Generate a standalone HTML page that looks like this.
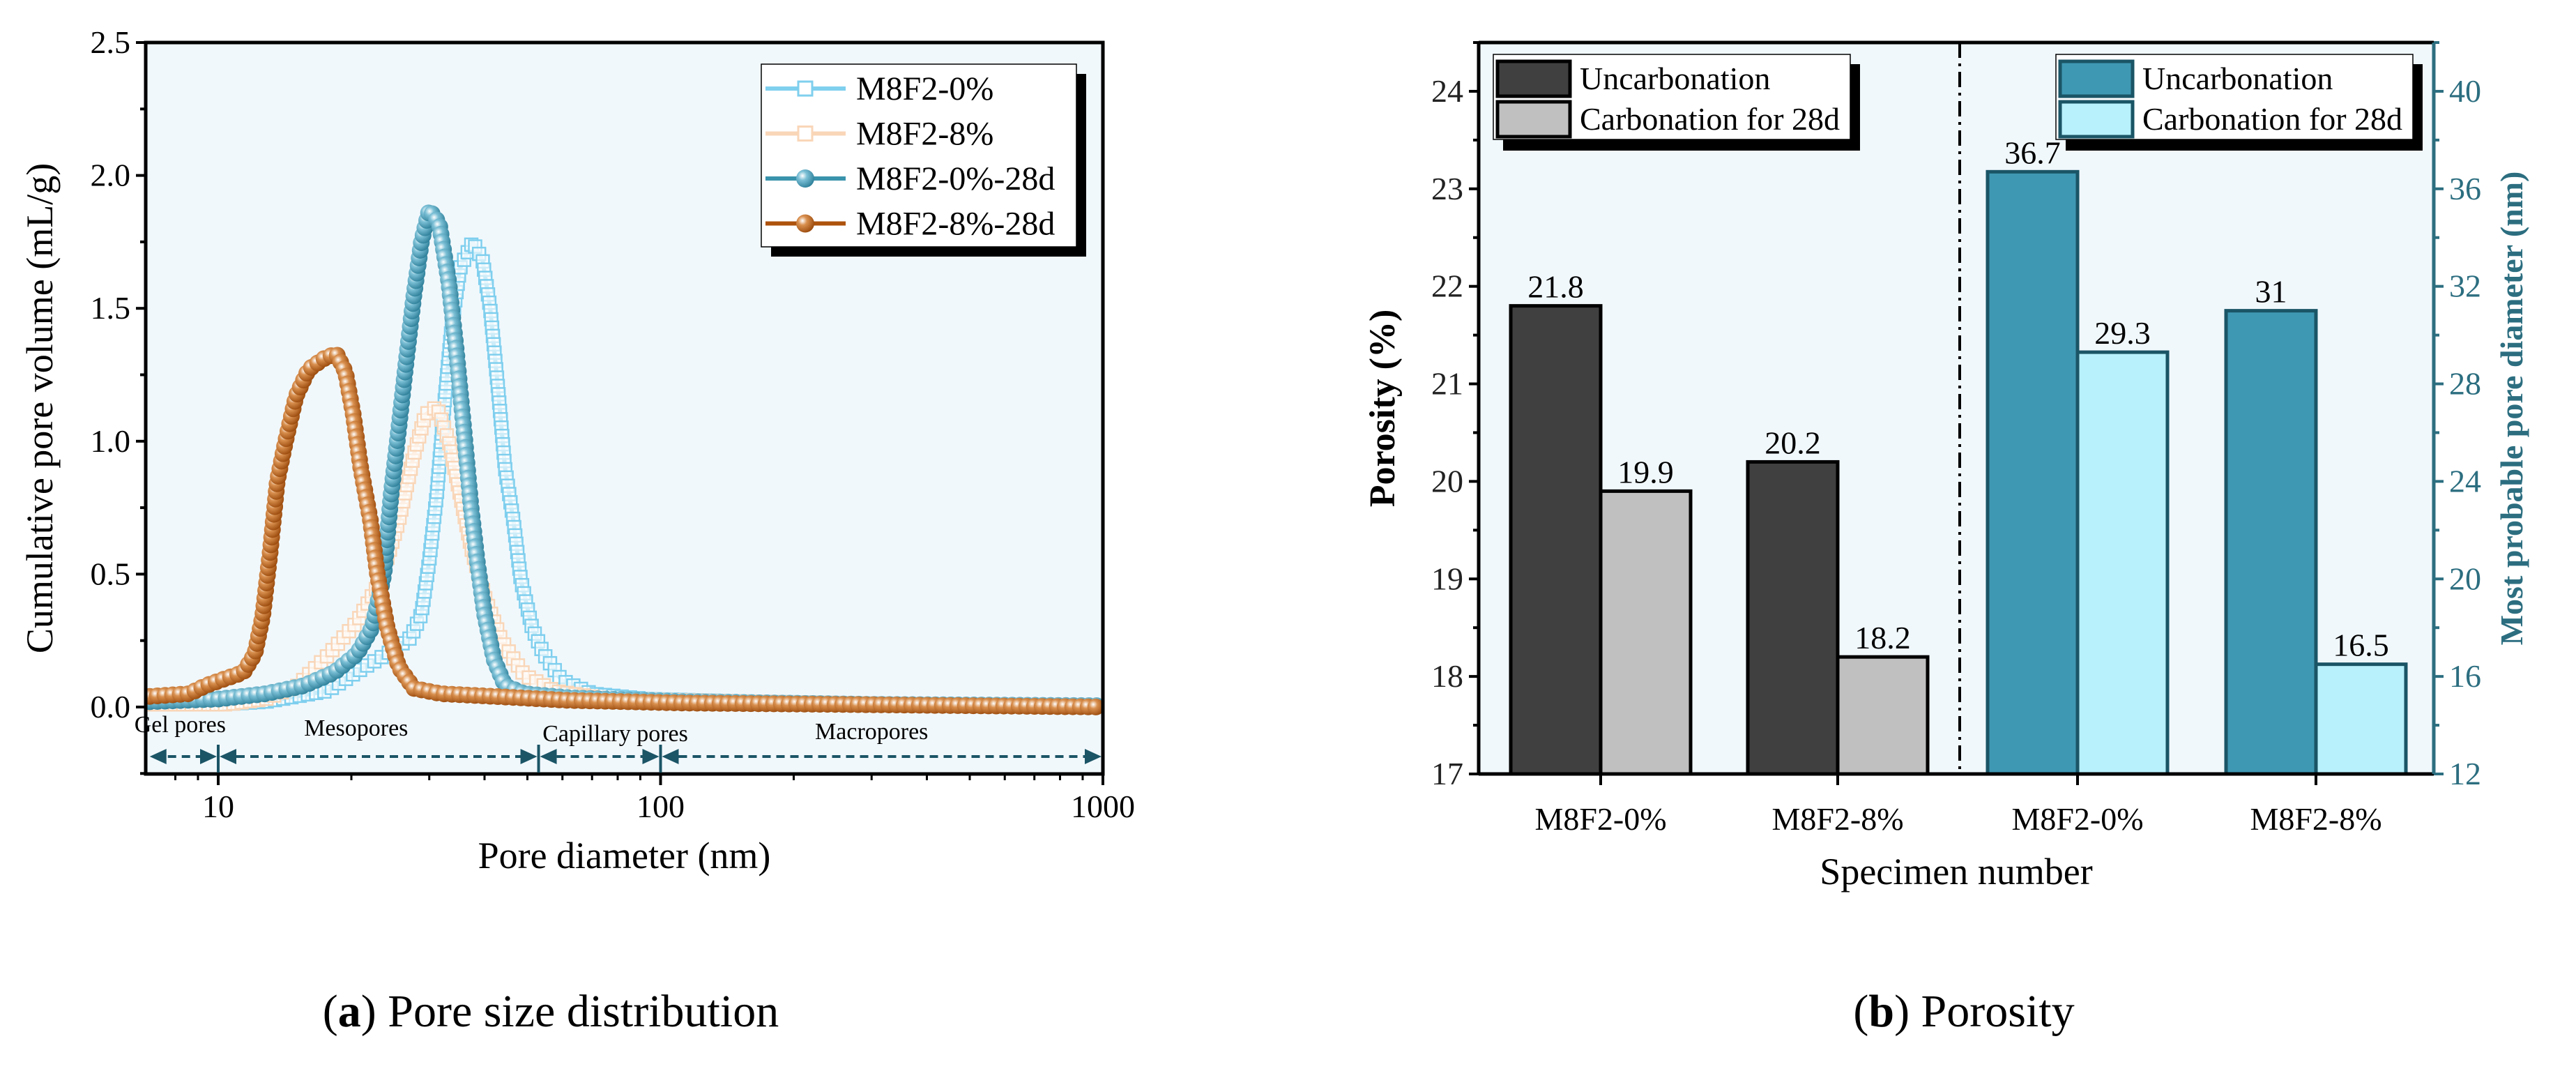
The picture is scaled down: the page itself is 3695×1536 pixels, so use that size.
<!DOCTYPE html>
<html><head><meta charset="utf-8"><style>
body{margin:0;background:#fff}
svg, svg text{font-family:"Liberation Serif","DejaVu Serif","Times New Roman",serif}
</style></head><body>
<svg id="root" width="3695" height="1531" viewBox="0 0 3695 1531" xmlns="http://www.w3.org/2000/svg" font-family="Liberation Serif, DejaVu Serif, serif">
<defs>
<radialGradient id="gBlue" cx="0.35" cy="0.35" r="0.7"><stop offset="0" stop-color="#ffffff"/><stop offset="0.35" stop-color="#7cc0d6"/><stop offset="1" stop-color="#2d7f99"/></radialGradient>
<radialGradient id="gBrown" cx="0.35" cy="0.35" r="0.7"><stop offset="0" stop-color="#ffffff"/><stop offset="0.35" stop-color="#d9904f"/><stop offset="1" stop-color="#9a4a0c"/></radialGradient>
</defs>
<g id="chartA"></g>
<g id="chartB"></g>
<text x="790" y="1472" font-size="66" text-anchor="middle" font-family="Liberation Serif, DejaVu Serif, serif">(<tspan font-weight="bold">a</tspan>) Pore size distribution</text>
<text x="2817" y="1472" font-size="66" text-anchor="middle" font-family="Liberation Serif, DejaVu Serif, serif">(<tspan font-weight="bold">b</tspan>) Porosity</text>
</svg>
<script>
// ---------- Chart A data ----------
const d0 = [7,10,12.8,17.6,21.4,24.1,27.2,28.8,30,31.2,32.5,33.8,35.2,37.6,39.6,41.2,42.9,44.5,46.5,48.3,51.2,54.4,59.8,70,93,167,400,1000];
const v0 = [0.01,0.01,0.02,0.06,0.15,0.2,0.26,0.35,0.55,0.8,1.15,1.45,1.65,1.75,1.68,1.5,1.2,0.9,0.7,0.48,0.3,0.2,0.1,0.05,0.03,0.02,0.01,0.0];
const d8 = [7,10.5,12.8,15.1,17.6,20.6,23.2,25.6,27.7,29.4,31.2,33.2,35.2,37.3,40.3,43.7,49.2,57.7,76,167,400,1000];
const v8 = [0.01,0.01,0.03,0.08,0.19,0.32,0.47,0.7,0.95,1.1,1.13,1.0,0.8,0.6,0.4,0.25,0.12,0.06,0.03,0.02,0.01,0.0];
const d0c = [7,10,12.8,15.6,18.3,20.6,22.3,23.7,24.6,25.6,26.6,27.7,28.8,30,31.6,33.2,34.5,35.9,37.3,38.5,40,42,44.5,49.2,62,113,300,1000];
const v0c = [0.02,0.03,0.05,0.08,0.13,0.2,0.3,0.5,0.8,1.05,1.3,1.55,1.75,1.87,1.82,1.6,1.35,1.05,0.75,0.55,0.35,0.18,0.08,0.05,0.035,0.02,0.01,0.005];
const d8c = [7,8.6,9.35,10.1,11.4,12.1,12.6,13.1,13.6,14.2,15,16,17.3,18.5,19.4,20.2,21,22.1,22.9,24.1,25.6,27.7,31.9,42,62,113,248,1000];
const v8c = [0.04,0.05,0.08,0.1,0.13,0.2,0.34,0.58,0.85,1.0,1.17,1.27,1.31,1.33,1.26,1.1,0.9,0.7,0.5,0.3,0.15,0.07,0.05,0.04,0.025,0.015,0.01,0.0];
const yTicksA = [0,0.5,1,1.5,2,2.5];
const yTickLabelsA = ["0.0","0.5","1.0","1.5","2.0","2.5"];
const xTicksA = [10,100,1000];
const legendA = ["M8F2-0%","M8F2-8%","M8F2-0%-28d","M8F2-8%-28d"];
// ---------- Chart B data ----------
const catsB = ["M8F2-0%","M8F2-8%","M8F2-0%","M8F2-8%"];
const porUncarb = [21.8,20.2];
const porCarb = [19.9,18.2];
const diaUncarb = [36.7,31];
const diaCarb = [29.3,16.5];
const yTicksBL = [17,18,19,20,21,22,23,24];
const yTicksBR = [12,16,20,24,28,32,36,40];

const NS="http://www.w3.org/2000/svg";
const FF="Liberation Serif, DejaVu Serif, serif";
function mk(parent,tag,attrs,txt){const e=document.createElementNS(NS,tag);for(const k in attrs)e.setAttribute(k,attrs[k]);if(tag==='text')e.setAttribute('font-family',FF);if(txt!==undefined)e.textContent=txt;parent.appendChild(e);return e;}

// ===== Chart A =====
(function(){
const g=document.getElementById('chartA');
const L=209,R=1582,T=61,B=1110;
const xs=d=>313+(Math.log10(d)-1)*634.5;
const ys=v=>1014-v*381.2;
const bg=mk(g,'rect',{x:L,y:T,width:R-L,height:B-T,fill:'#f1f8fc'});


const cp=mk(g,'clipPath',{id:'clipA'});mk(cp,'rect',{x:L,y:T,width:R-L,height:B-T});
const series=[
 {d:d0,v:v0,col:'#7fcfee',type:'sq',name:'series-m8f2-0'},
 {d:d8,v:v8,col:'#f9d6b8',type:'sq',name:'series-m8f2-8'},
 {d:d0c,v:v0c,col:'#3a93ad',type:'ci',grad:'url(#gBlue)',name:'series-m8f2-0-28d'},
 {d:d8c,v:v8c,col:'#ad520c',type:'ci',grad:'url(#gBrown)',name:'series-m8f2-8-28d'}];
const sg=mk(g,'g',{'clip-path':'url(#clipA)'});
series.forEach(s=>{
  const grp=mk(sg,'g',{});
  
  
  const pts=s.d.map((d,i)=>[xs(d),ys(s.v[i])]);
  mk(grp,'polyline',{points:pts.map(p=>p.join(',')).join(' '),fill:'none',stroke:s.col,'stroke-width':6});
  const step=s.type==='sq'?12:11;
  let acc=0;const marks=[pts[0]];
  for(let i=1;i<pts.length;i++){
    const [x0,y0]=pts[i-1],[x1,y1]=pts[i];const len=Math.hypot(x1-x0,y1-y0);
    let t=step-acc;
    while(t<=len){marks.push([x0+(x1-x0)*t/len,y0+(y1-y0)*t/len]);t+=step;}
    acc=len-(t-step);
  }
  marks.forEach(m=>{
    if(s.type==='sq') mk(grp,'rect',{x:m[0]-9,y:m[1]-9,width:18,height:18,fill:'#fff','fill-opacity':0.6,stroke:s.col,'stroke-width':2.5});
    else mk(grp,'circle',{cx:m[0],cy:m[1],r:12,fill:s.grad});
  });
});
mk(g,'rect',{x:L,y:T,width:R-L,height:B-T,fill:'none',stroke:'#000','stroke-width':5});
for(let v=-0.25;v<=2.5001;v+=0.25){const y=ys(v);mk(g,'line',{x1:L-(Math.abs(v*2-Math.round(v*2))<1e-6?14:8),x2:L,y1:y,y2:y,stroke:'#000','stroke-width':4});}
yTicksA.forEach((v,i)=>{const t=mk(g,'text',{x:L-22,y:ys(v)+15,'font-size':46,'text-anchor':'end'},yTickLabelsA[i]);
});
[8,9,20,30,40,50,60,70,80,90,200,300,400,500,600,700,800,900].forEach(d=>{const x=xs(d);mk(g,'line',{x1:x,x2:x,y1:B,y2:B+9,stroke:'#000','stroke-width':3});});
xTicksA.forEach(d=>{const x=xs(d);mk(g,'line',{x1:x,x2:x,y1:B,y2:B+16,stroke:'#000','stroke-width':4});
const t=mk(g,'text',{x:x,y:1172,'font-size':46,'text-anchor':'middle'},String(d));});
const xt=mk(g,'text',{x:(L+R)/2,y:1245,'font-size':54,'text-anchor':'middle'},'Pore diameter (nm)');

const yt=mk(g,'text',{x:0,y:0,'font-size':54,'text-anchor':'middle',transform:'translate(75,'+((T+B)/2)+') rotate(-90)'},'Cumulative pore volume (mL/g)');

const zc='#1b5566',zy=1085;
[[7,9.3],[9.3,10],[10,53],[53,100],[100,1000]].forEach(s=>{
  const a=xs(s[0]),b=xs(s[1]);
  mk(g,'line',{x1:a+6,x2:b-6,y1:zy,y2:zy,stroke:zc,'stroke-width':4,'stroke-dasharray':'12,8'});
});
[[7,10],[10,53],[53,100],[100,1000]].forEach(s=>{
  const a=xs(s[0])+(s[0]===7?-2:0),b=xs(s[1]);
  mk(g,'polygon',{points:`${a+2},${zy} ${a+26},${zy-11} ${a+26},${zy+11}`,fill:zc});
  mk(g,'polygon',{points:`${b-2},${zy} ${b-26},${zy-11} ${b-26},${zy+11}`,fill:zc});
});
[10,53,100].forEach(d=>mk(g,'line',{x1:xs(d),x2:xs(d),y1:1068,y2:1108,stroke:zc,'stroke-width':4}));
[['Gel pores',8.2,1050,'label-gel-pores'],['Mesopores',20.5,1055,'label-mesopores'],['Capillary pores',79,1063,'label-capillary-pores'],['Macropores',300,1060,'label-macropores']].forEach(l=>{
  const t=mk(g,'text',{x:xs(l[1]),y:l[2],'font-size':34,'text-anchor':'middle'},l[0]);});
const lg=mk(g,'g',{});
mk(lg,'rect',{x:1106,y:106,width:452,height:262,fill:'#000'});
mk(lg,'rect',{x:1092,y:92,width:452,height:262,fill:'#fff',stroke:'#000','stroke-width':1.5});
legendA.forEach((n,i)=>{const y=127+i*64.5,s=series[i];
  const e=mk(lg,'g',{});
  mk(e,'line',{x1:1098,x2:1213,y1:y,y2:y,stroke:s.col,'stroke-width':6});
  if(s.type==='sq')mk(e,'rect',{x:1145,y:y-10,width:20,height:20,fill:'#fff',stroke:s.col,'stroke-width':3});
  else mk(e,'circle',{cx:1155,cy:y,r:13,fill:s.grad});
  mk(e,'text',{x:1228,y:y+16,'font-size':48},n);});
})();

// ===== Chart B =====
(function(){
const g=document.getElementById('chartB');
const L=2121,R=3491,T=61,B=1110;
const yl=v=>B-(v-17)*(B-T)/7.5;
const yr=v=>B-(v-12)*(B-T)/30;
const cx=[2296,2636,2980,3322];const bw=129;
const bg=mk(g,'rect',{x:L,y:T,width:R-L,height:B-T,fill:'#f1f8fc'});

function bar(x,y,fill,stroke,val,name){
  const b=mk(g,'rect',{x:x,y:y,width:bw,height:B-y,fill:fill,stroke:stroke,'stroke-width':5});
  
  const t=mk(g,'text',{x:x+bw/2,y:y-12,'font-size':46,'text-anchor':'middle'},String(val));
  
}
porUncarb.forEach((v,i)=>bar(cx[i]-bw,yl(v),'#404040','#000',v,'bar-porosity-uncarbonation'));
porCarb.forEach((v,i)=>bar(cx[i],yl(v),'#c0c0c0','#000',v,'bar-porosity-carbonation'));
diaUncarb.forEach((v,i)=>bar(cx[i+2]-bw,yr(v),'#3f98b3','#1a5566',v,'bar-diameter-uncarbonation'));
diaCarb.forEach((v,i)=>bar(cx[i+2],yr(v),'#b8f0fb','#1a5566',v,'bar-diameter-carbonation'));
const dv=mk(g,'line',{x1:2811,x2:2811,y1:T,y2:B,stroke:'#000','stroke-width':4,'stroke-dasharray':'22,8,4,8'});

mk(g,'line',{x1:L,x2:R,y1:T,y2:T,stroke:'#000','stroke-width':5});
mk(g,'line',{x1:L,x2:R,y1:B,y2:B,stroke:'#000','stroke-width':5});
mk(g,'line',{x1:L,x2:L,y1:T,y2:B,stroke:'#000','stroke-width':5});
mk(g,'line',{x1:R,x2:R,y1:T,y2:B,stroke:'#2c6e80','stroke-width':5});
for(let v=17;v<=24.5;v+=0.5){const y=yl(v);mk(g,'line',{x1:L-(v%1===0?14:8),x2:L,y1:y,y2:y,stroke:'#000','stroke-width':4});}
yTicksBL.forEach(v=>{const t=mk(g,'text',{x:L-22,y:yl(v)+15,'font-size':46,'text-anchor':'end',fill:'#222'},String(v));});
for(let v=12;v<=42;v+=2){const y=yr(v);mk(g,'line',{x1:R,x2:R+(v%4===0?14:8),y1:y,y2:y,stroke:'#2c6e80','stroke-width':4});}
yTicksBR.forEach(v=>{const t=mk(g,'text',{x:R+22,y:yr(v)+15,'font-size':46,fill:'#2c6e80'},String(v));});
catsB.forEach((c,i)=>{mk(g,'line',{x1:cx[i],x2:cx[i],y1:B,y2:B+16,stroke:'#000','stroke-width':4});
const t=mk(g,'text',{x:cx[i],y:1190,'font-size':46,'text-anchor':'middle'},c);});
const xt=mk(g,'text',{x:(L+R)/2,y:1268,'font-size':54,'text-anchor':'middle'},'Specimen number');

const yt=mk(g,'text',{x:0,y:0,'font-size':52,'text-anchor':'middle','font-weight':'bold',transform:'translate(2000,'+((T+B)/2)+') rotate(-90)'},'Porosity (%)');

const yt2=mk(g,'text',{x:0,y:0,'font-size':46,'text-anchor':'middle','font-weight':'bold',fill:'#2c6e80',transform:'translate(3618,'+((T+B)/2)+') rotate(-90)'},'Most probable pore diameter (nm)');

function legend(x,fills,stroke,name){
  const lg=mk(g,'g',{});
  mk(lg,'rect',{x:x+14,y:92,width:512,height:124,fill:'#000'});
  mk(lg,'rect',{x:x,y:78,width:512,height:122,fill:'#fff',stroke:'#000','stroke-width':1.5});
  ['Uncarbonation','Carbonation for 28d'].forEach((n,i)=>{const y=88+i*58;
    mk(lg,'rect',{x:x+6,y:y,width:104,height:50,fill:fills[i],stroke:stroke,'stroke-width':5});
    mk(lg,'text',{x:x+124,y:y+40,'font-size':46},n);});
}
legend(2142,['#404040','#c0c0c0'],'#000','legend-porosity');
legend(2949,['#3f98b3','#b8f0fb'],'#1a5566','legend-diameter');
})();
</script>
</body></html>
